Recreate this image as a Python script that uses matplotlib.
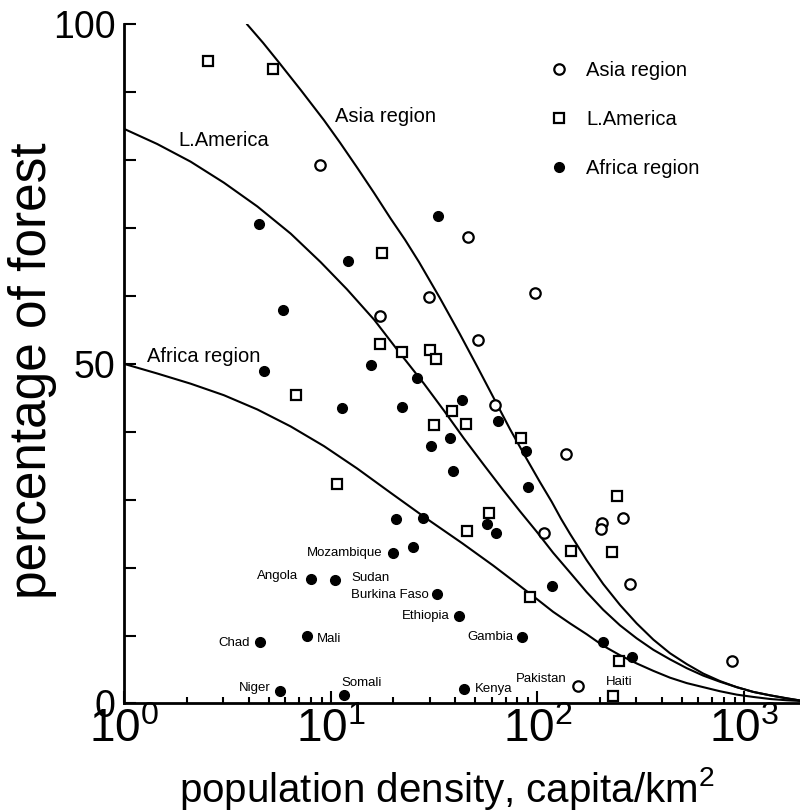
import matplotlib
matplotlib.use('Agg')
import matplotlib.pyplot as plt
from matplotlib.ticker import FixedLocator, LogLocator, MultipleLocator, NullFormatter

plt.rcParams['font.family'] = ['Liberation Sans', 'DejaVu Sans']

# points: population density (capita/km2), forest cover (%)
asia_density = [8.8, 45.9, 97.2, 29.9, 51.5, 17.3, 62.3, 137, 108, 206, 202, 260, 280, 871, 157]
asia_forest = [79.3, 68.7, 60.5, 59.8, 53.6, 57.0, 43.9, 36.8, 25.1, 26.6, 25.7, 27.3, 17.6, 6.2, 2.6]

lam_density = [2.55, 5.26, 17.6, 17.2, 22.0, 30.1, 32.4, 6.79, 38.7, 31.5, 45.1, 10.7, 83.2, 244,
               58.2, 45.7, 146, 229, 92.0, 248, 233]
lam_forest = [94.6, 93.5, 66.3, 53.0, 51.7, 52.1, 50.7, 45.4, 43.1, 41.0, 41.1, 32.3, 39.1, 30.5,
              28.1, 25.4, 22.4, 22.3, 15.7, 6.2, 1.15]

africa_density = [33.0, 4.48, 12.1, 5.86, 4.74, 15.7, 26.2, 42.9, 11.3, 22.1, 37.7, 30.4, 39.0, 64.2,
                  88.0, 90.3, 57.1, 63.0, 117, 41.7, 83.8, 207, 288, 44.1, 20.6, 28.0, 20.0, 25.0,
                  8.03, 10.5, 32.5, 4.52, 7.68, 5.66, 11.6]
africa_forest = [71.8, 70.6, 65.2, 58.0, 48.9, 49.9, 47.9, 44.7, 43.5, 43.7, 39.1, 37.9, 34.3, 41.6,
                 37.2, 31.9, 26.5, 25.1, 17.3, 12.9, 9.8, 9.1, 6.9, 2.1, 27.1, 27.3, 22.2, 23.0,
                 18.4, 18.2, 16.1, 9.0, 9.9, 1.9, 1.25]

# fitted curves
asia_curve_x = [3.93, 4.69, 5.60, 7.16, 9.25, 11.06, 13.4, 16.16, 19.46, 22.83, 26.7, 33.7, 42.1,
                50.9, 61.1, 73.6, 88.7, 102.8, 117.2, 130, 143.6, 173, 208, 251, 302, 364, 438,
                528, 635, 765, 922, 1109, 1336, 1610, 1867]
asia_curve_y = [100.0, 97.3, 94.4, 90.3, 85.9, 82.6, 78.9, 75.2, 71.4, 68.3, 65.0, 59.7, 54.4,
                49.7, 45.1, 40.4, 36.0, 32.6, 29.7, 27.2, 25.0, 21.1, 17.6, 14.5, 11.8, 9.4, 7.4,
                5.8, 4.4, 3.3, 2.4, 1.7, 1.2, 0.74, 0.44]
lam_curve_x = [1.0, 1.44, 2.09, 3.03, 4.40, 6.38, 8.91, 11.95, 16.2, 21.3, 28.2, 35.3, 44.1, 55.1,
               68.3, 82.3, 99.1, 119, 143.6, 173, 208, 251, 302, 364, 438, 528, 635, 765, 922,
               1109, 1336, 1610, 1867]
lam_curve_y = [84.6, 82.4, 79.8, 76.7, 73.2, 69.2, 65.0, 61.0, 56.5, 51.8, 47.1, 43.1, 39.0, 35.1,
               31.4, 28.3, 25.3, 22.2, 19.3, 16.4, 13.8, 11.5, 9.6, 7.9, 6.5, 5.2, 4.1, 3.2, 2.4,
               1.7, 1.2, 0.77, 0.44]
africa_curve_x = [1.0, 1.44, 2.09, 3.03, 4.40, 6.38, 9.25, 13.4, 19.5, 28.8, 43.2, 61.1, 82.3,
                  99.1, 119, 143.6, 173, 208, 251, 302, 364, 438, 528, 635, 765, 922, 1109, 1336,
                  1610, 1867]
africa_curve_y = [50.0, 48.6, 47.1, 45.4, 43.3, 40.8, 37.9, 34.6, 31.0, 27.3, 23.6, 20.3, 17.3,
                  15.4, 13.5, 11.8, 10.2, 8.5, 7.1, 5.9, 4.8, 3.8, 3.0, 2.4, 1.8, 1.3, 0.96, 0.66,
                  0.47, 0.37]

x_ticks = [1, 10, 100, 1000]
x_tick_labels = [r'$\mathregular{10^{0}}$', r'$\mathregular{10^{1}}$',
                 r'$\mathregular{10^{2}}$', r'$\mathregular{10^{3}}$']
y_ticks = [0, 50, 100]

# (text, x, y, ha) for the country names next to some points
country_labels = [
    ('Mozambique', 17.7, 22.1, 'right'), ('Angola', 6.94, 18.7, 'right'),
    ('Sudan', 12.5, 18.5, 'left'), ('Burkina Faso', 29.8, 16.0, 'right'),
    ('Ethiopia', 37.7, 12.9, 'right'), ('Chad', 4.05, 8.9, 'right'),
    ('Mali', 8.53, 9.5, 'left'), ('Niger', 5.11, 2.3, 'right'),
    ('Somali', 11.2, 3.0, 'left'), ('Gambia', 76.3, 9.8, 'right'),
    ('Kenya', 49.8, 2.1, 'left'), ('Pakistan', 78.7, 3.6, 'left'),
    ('Haiti', 214, 3.1, 'left'),
]
curve_labels = [('Asia region', 10.5, 86.5), ('L.America', 1.82, 82.9), ('Africa region', 1.28, 51.1)]

fig = plt.figure(figsize=(8, 8.11), dpi=100)
ax = fig.add_axes([0.1556, 0.1326, 0.8444, 0.8372])

ax.plot(asia_curve_x, asia_curve_y, color='black', lw=1.5)
ax.plot(lam_curve_x, lam_curve_y, color='black', lw=1.5)
ax.plot(africa_curve_x, africa_curve_y, color='black', lw=1.5)

h1, = ax.plot(asia_density, asia_forest, 'o', ms=7.5, mfc='white', mec='black', mew=1.6,
              label='Asia region', clip_on=False)
h2, = ax.plot(lam_density, lam_forest, 's', ms=7.5, mfc='white', mec='black', mew=1.6,
              label='L.America', clip_on=False)
h3, = ax.plot(africa_density, africa_forest, 'o', ms=7, color='black', label='Africa region',
              clip_on=False)

for name, x, y, ha in country_labels:
    ax.text(x, y, name, ha=ha, va='center', fontsize=9.5)
for name, x, y in curve_labels:
    ax.text(x, y, name, ha='left', va='center', fontsize=14.5)

ax.legend([h1, h2, h3], ['Asia region', 'L.America', 'Africa region'], loc='upper left',
          bbox_to_anchor=(549 / 800, 1 - 61 / 811), bbox_transform=fig.transFigure,
          frameon=False, fontsize=14.5, handlelength=1.0, handletextpad=0.85,
          labelspacing=1.5, borderpad=0, borderaxespad=0, numpoints=1)

ax.set_xscale('log')
ax.set_xlim(1, 1867)
ax.set_ylim(0, 100)

ax.xaxis.set_major_locator(FixedLocator(x_ticks))
ax.xaxis.set_minor_locator(LogLocator(base=10, subs=range(2, 10)))
ax.xaxis.set_minor_formatter(NullFormatter())
ax.set_xticklabels(x_tick_labels, fontsize=33)
ax.yaxis.set_major_locator(FixedLocator(y_ticks))
ax.yaxis.set_minor_locator(MultipleLocator(10))
ax.set_yticklabels([str(v) for v in y_ticks], fontsize=27)

ax.tick_params(axis='both', which='both', direction='in', width=1.5, top=False, right=False)
ax.tick_params(axis='y', which='both', length=8.5, pad=6.5)
ax.tick_params(axis='x', which='major', length=8.5, pad=3)
ax.tick_params(axis='x', which='minor', length=4.5)

for side in ['top', 'right']:
    ax.spines[side].set_visible(False)
for side in ['left', 'bottom']:
    ax.spines[side].set_linewidth(2)

ax.set_xlabel(r'population density, capita/km$\mathregular{^2}$', fontsize=29, va='center')
ax.xaxis.set_label_coords(0.4774, -0.125)
ax.set_ylabel('percentage of forest', fontsize=37, va='center')
ax.yaxis.set_label_coords(-0.1355, 0.49)

fig.savefig('out.png', dpi=100)
